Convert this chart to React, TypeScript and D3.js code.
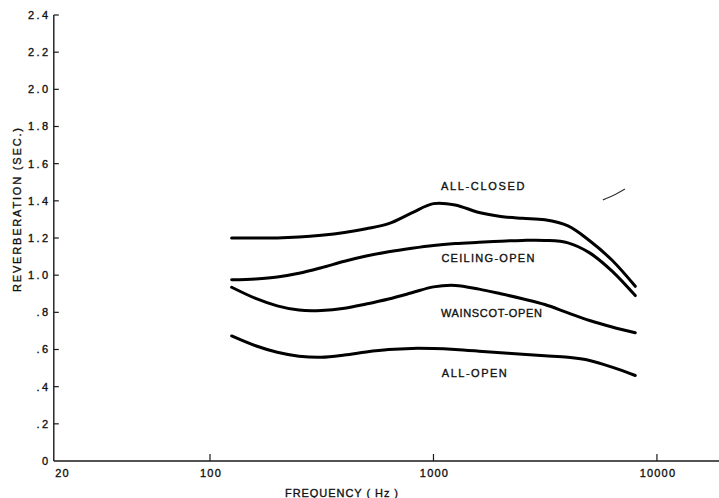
import React from "react";
import * as d3 from "d3";

// ---- data ----
const FREQS = [125, 160, 200, 250, 315, 400, 500, 630, 800, 1000, 1250, 1600, 2000, 2500, 3150, 4000, 5000, 6300, 8000];
const ALL_CLOSED = [1.2, 1.2, 1.2, 1.205, 1.215, 1.23, 1.25, 1.277, 1.335, 1.385, 1.378, 1.337, 1.316, 1.306, 1.298, 1.265, 1.185, 1.08, 0.94];
const CEILING_OPEN = [0.975, 0.98, 0.99, 1.01, 1.04, 1.075, 1.103, 1.126, 1.145, 1.16, 1.17, 1.177, 1.183, 1.187, 1.187, 1.174, 1.12, 1.022, 0.89];
const WAINSCOT_OPEN = [0.935, 0.875, 0.835, 0.812, 0.81, 0.822, 0.845, 0.872, 0.905, 0.937, 0.945, 0.925, 0.9, 0.873, 0.842, 0.797, 0.756, 0.721, 0.69];
const ALL_OPEN = [0.673, 0.62, 0.585, 0.564, 0.558, 0.57, 0.587, 0.6, 0.606, 0.605, 0.6, 0.591, 0.582, 0.574, 0.566, 0.558, 0.541, 0.505, 0.46];

const SERIES_NAMES = ["ALL-CLOSED", "CEILING-OPEN", "WAINSCOT-OPEN", "ALL-OPEN"];
const SERIES_VALUES = [ALL_CLOSED, CEILING_OPEN, WAINSCOT_OPEN, ALL_OPEN];
// label anchor (frequency, value at text baseline)
const LABEL_FREQ = [1080, 1085, 1080, 1090];
const LABEL_VALUE = [1.459, 1.071, 0.775, 0.452];
const LABEL_WIDTH = [83.5, 93, 101, 65];

const Y_TICKS = [0, 0.2, 0.4, 0.6, 0.8, 1.0, 1.2, 1.4, 1.6, 1.8, 2.0, 2.2, 2.4];
const Y_TICK_LABELS = ["0", ".2", ".4", ".6", ".8", "1.0", "1.2", "1.4", "1.6", "1.8", "2.0", "2.2", "2.4"];
const X_TICKS = [20, 100, 1000, 10000];
const X_TICK_LABELS = ["20", "100", "1000", "10000"];

const X_TITLE = "FREQUENCY ( Hz )";
const Y_TITLE = "REVERBERATION (SEC.)";

// small stray pen stroke in the scanned original
const STRAY_FREQ = [5730, 6400, 7190];
const STRAY_VALUE = [1.405, 1.43, 1.464];

const W = 719;
const H = 498;
const FONT = "'Liberation Sans', Arial, sans-serif";
const INK = "#111";

export default function App() {
  const x = d3.scaleLog().domain([20, 20000]).range([53.8, 724.2]);
  const y = d3.scaleLinear().domain([0, 2.4]).range([461, 15]);

  const line = d3
    .line<[number, number]>()
    .x((d) => x(d[0]))
    .y((d) => y(d[1]))
    .curve(d3.curveCatmullRom.alpha(0.5));

  const axisX0 = x(20);
  const axisY0 = y(0);

  const textProps = { fill: INK, stroke: INK, strokeWidth: 0.35, fontSize: 11 };

  return (
    <svg
      width={W}
      height={H}
      style={{ position: "absolute", left: 0, top: 0, background: "#fff" }}
      fontFamily={FONT}
    >
      <rect x={0} y={0} width={W} height={H} fill="#fff" />
      {/* axes */}
      <line x1={axisX0} y1={y(2.4)} x2={axisX0} y2={axisY0} stroke="#1a1a1a" strokeWidth={1.4} />
      <line x1={axisX0} y1={axisY0} x2={W} y2={axisY0} stroke="#1a1a1a" strokeWidth={1.4} />

      {/* y ticks */}
      {Y_TICKS.map((t, i) => (
        <g key={"yt" + i}>
          {t > 0 && (
            <line x1={axisX0} y1={y(t)} x2={axisX0 + 5} y2={y(t)} stroke="#1a1a1a" strokeWidth={1.2} />
          )}
          <text x={50.5} y={y(t)} dy="0.36em" textAnchor="end" letterSpacing={2.4} {...textProps}>
            {Y_TICK_LABELS[i]}
          </text>
        </g>
      ))}

      {/* x ticks */}
      {X_TICKS.map((t, i) => (
        <g key={"xt" + i}>
          {i > 0 && (
            <line x1={x(t)} y1={axisY0} x2={x(t)} y2={axisY0 - 7} stroke="#1a1a1a" strokeWidth={1.2} />
          )}
          <text
            x={i === 0 ? x(t) + 1.5 : x(t) + 1}
            y={477}
            textAnchor={i === 0 ? "start" : "middle"}
            letterSpacing={1.2}
            {...textProps}
          >
            {X_TICK_LABELS[i]}
          </text>
        </g>
      ))}

      {/* axis titles */}
      <text x={285} y={496.5} textLength={113} lengthAdjust="spacing" {...textProps}>
        {X_TITLE}
      </text>
      <text
        transform={`translate(20.5, 292) rotate(-90)`}
        textLength={164}
        lengthAdjust="spacing"
        {...textProps}
      >
        {Y_TITLE}
      </text>

      {/* curves */}
      {SERIES_VALUES.map((vals, si) => {
        const pts = FREQS.map((f, k) => [f, vals[k]] as [number, number]);
        return (
          <path
            key={"s" + si}
            d={line(pts) || ""}
            fill="none"
            stroke="#000"
            strokeWidth={3}
            strokeLinecap="round"
            strokeLinejoin="round"
          />
        );
      })}

      {/* curve labels */}
      {SERIES_NAMES.map((name, si) => (
        <text
          key={"l" + si}
          x={x(LABEL_FREQ[si])}
          y={y(LABEL_VALUE[si])}
          textLength={LABEL_WIDTH[si]}
          lengthAdjust="spacing"
          {...textProps}
        >
          {name}
        </text>
      ))}

      {/* stray mark */}
      <path
        d={line(STRAY_FREQ.map((f, k) => [f, STRAY_VALUE[k]] as [number, number])) || ""}
        fill="none"
        stroke="#333"
        strokeWidth={1.2}
      />
    </svg>
  );
}
